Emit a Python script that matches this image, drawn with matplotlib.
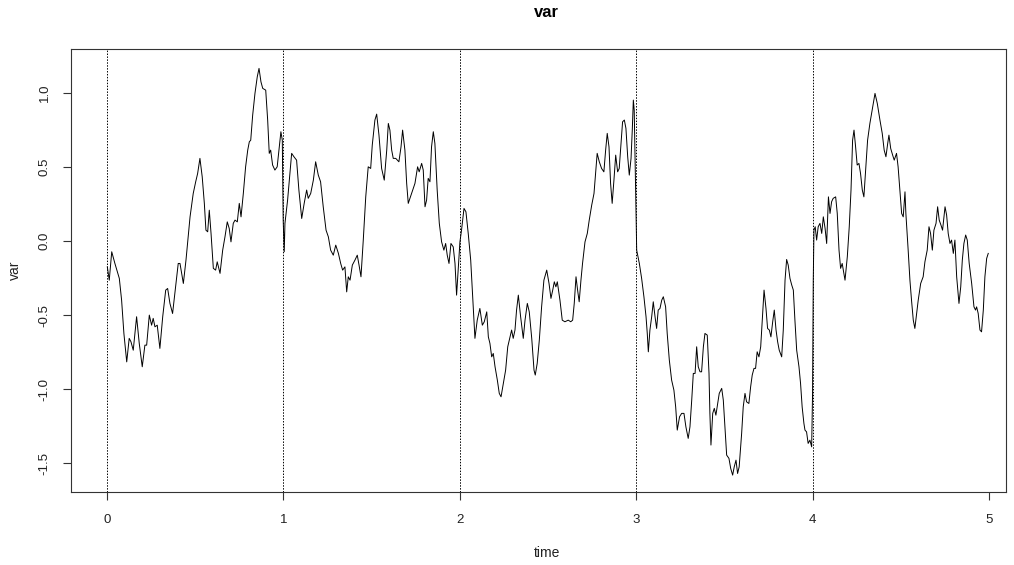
import matplotlib
matplotlib.use("Agg")
import matplotlib.pyplot as plt

plt.rcParams['font.family'] = ['Liberation Sans', 'DejaVu Sans']

# sampled path, read per unit interval
time = [
    0.002, 0.013, 0.027, 0.045, 0.070, 0.083, 0.096, 0.112, 0.126, 0.136, 0.149, 0.168, 0.183, 0.200,
    0.215, 0.225, 0.240, 0.253, 0.262, 0.272, 0.285, 0.300, 0.316, 0.333, 0.344, 0.357, 0.372, 0.385,
    0.404, 0.414, 0.433, 0.448, 0.471, 0.489, 0.503, 0.514, 0.527, 0.540, 0.552, 0.561, 0.571, 0.580,
    0.590, 0.603, 0.616, 0.625, 0.641, 0.656, 0.669, 0.682, 0.693, 0.703, 0.716, 0.726, 0.739, 0.750,
    0.760, 0.773, 0.786, 0.798, 0.807, 0.815, 0.826, 0.839, 0.852, 0.862, 0.873, 0.883, 0.900, 0.911,
    0.920, 0.928, 0.939, 0.952, 0.965, 0.977, 0.986, 0.994, 0.999, 1.005,
    1.009, 1.024, 1.037, 1.047, 1.060, 1.075, 1.088, 1.104, 1.118, 1.132, 1.141, 1.155, 1.170, 1.183,
    1.198, 1.211, 1.226, 1.242, 1.255, 1.268, 1.283, 1.297, 1.312, 1.325, 1.336, 1.349, 1.359, 1.368,
    1.378, 1.391, 1.406, 1.419, 1.429, 1.440, 1.453, 1.467, 1.481, 1.495, 1.504, 1.519, 1.529, 1.542,
    1.557, 1.572, 1.586, 1.595, 1.604, 1.614, 1.623, 1.637, 1.655, 1.667, 1.676, 1.689, 1.699, 1.708,
    1.727, 1.746, 1.761, 1.770, 1.784, 1.793, 1.803, 1.812, 1.821, 1.831, 1.840, 1.850, 1.859, 1.872,
    1.884, 1.897, 1.910, 1.920, 1.929, 1.939, 1.950, 1.963, 1.973, 1.982, 1.991, 2.001,
    2.010, 2.024, 2.035, 2.048, 2.062, 2.073, 2.086, 2.099, 2.114, 2.128, 2.139, 2.153, 2.162, 2.171,
    2.181, 2.190, 2.200, 2.213, 2.224, 2.234, 2.247, 2.260, 2.272, 2.285, 2.294, 2.303, 2.313, 2.322,
    2.332, 2.345, 2.360, 2.370, 2.383, 2.394, 2.408, 2.421, 2.428, 2.439, 2.451, 2.464, 2.477, 2.493,
    2.506, 2.517, 2.527, 2.536, 2.545, 2.553, 2.568, 2.581, 2.596, 2.615, 2.629, 2.640, 2.649, 2.659,
    2.668, 2.677, 2.687, 2.696, 2.710, 2.723, 2.734, 2.748, 2.761, 2.770, 2.779, 2.791, 2.804, 2.817,
    2.827, 2.836, 2.846, 2.855, 2.864, 2.874, 2.884, 2.895, 2.904, 2.914, 2.923, 2.933, 2.942, 2.952,
    2.961, 2.971, 2.978, 2.984, 2.989, 2.997, 3.003,
    3.018, 3.031, 3.044, 3.056, 3.063, 3.069, 3.078, 3.088, 3.097, 3.107, 3.116, 3.125, 3.135, 3.145,
    3.154, 3.167, 3.176, 3.188, 3.201, 3.214, 3.224, 3.233, 3.246, 3.258, 3.271, 3.282, 3.295, 3.305,
    3.315, 3.324, 3.334, 3.343, 3.352, 3.362, 3.371, 3.381, 3.390, 3.403, 3.413, 3.418, 3.424, 3.434,
    3.443, 3.452, 3.462, 3.471, 3.485, 3.494, 3.503, 3.513, 3.526, 3.536, 3.547, 3.556, 3.566, 3.575,
    3.584, 3.598, 3.607, 3.617, 3.626, 3.639, 3.649, 3.658, 3.668, 3.677, 3.686, 3.696, 3.706, 3.715,
    3.725, 3.736, 3.745, 3.755, 3.764, 3.774, 3.783, 3.793, 3.802, 3.811, 3.825, 3.834, 3.844, 3.853,
    3.862, 3.872, 3.882, 3.891, 3.900, 3.910, 3.923, 3.932, 3.941, 3.951, 3.957, 3.966, 3.975, 3.985,
    3.995, 4.000, 4.004, 4.008, 4.015, 4.023,
    4.032, 4.042, 4.052, 4.061, 4.071, 4.080, 4.090, 4.099, 4.108, 4.117, 4.131, 4.140, 4.150, 4.159,
    4.168, 4.184, 4.197, 4.208, 4.218, 4.227, 4.235, 4.244, 4.253, 4.263, 4.272, 4.282, 4.291, 4.301,
    4.312, 4.325, 4.338, 4.354, 4.367, 4.382, 4.395, 4.406, 4.416, 4.426, 4.433, 4.443, 4.454, 4.463,
    4.476, 4.485, 4.495, 4.505, 4.514, 4.524, 4.529, 4.542, 4.552, 4.561, 4.571, 4.580, 4.590, 4.599,
    4.613, 4.627, 4.637, 4.650, 4.660, 4.669, 4.679, 4.688, 4.700, 4.709, 4.718, 4.728, 4.737, 4.751,
    4.760, 4.769, 4.779, 4.788, 4.798, 4.807, 4.817, 4.830, 4.840, 4.849, 4.858, 4.868, 4.877, 4.888,
    4.902, 4.915, 4.924, 4.930, 4.939, 4.949, 4.958, 4.968, 4.977, 4.987, 4.996,
]

var = [
    -0.174, -0.264, -0.072, -0.151, -0.252, -0.399, -0.624, -0.816, -0.657, -0.680, -0.737, -0.511, -0.691, -0.849,
    -0.703, -0.703, -0.500, -0.568, -0.522, -0.579, -0.568, -0.725, -0.511, -0.331, -0.320, -0.421, -0.489, -0.353,
    -0.151, -0.151, -0.286, -0.128, 0.164, 0.322, 0.401, 0.457, 0.559, 0.434, 0.255, 0.074, 0.063, 0.209,
    0.052, -0.184, -0.196, -0.140, -0.218, -0.061, 0.029, 0.130, 0.086, -0.005, 0.120, 0.142, 0.130, 0.255,
    0.164, 0.322, 0.502, 0.615, 0.671, 0.682, 0.851, 0.998, 1.110, 1.167, 1.076, 1.032, 1.020, 0.818,
    0.593, 0.615, 0.514, 0.480, 0.502, 0.637, 0.739, 0.682, 0.142, -0.072,
    0.120, 0.277, 0.457, 0.593, 0.570, 0.547, 0.345, 0.153, 0.255, 0.345, 0.289, 0.322, 0.412, 0.536,
    0.446, 0.401, 0.232, 0.074, 0.029, -0.061, -0.095, -0.027, -0.083, -0.151, -0.196, -0.174, -0.343, -0.241,
    -0.264, -0.162, -0.128, -0.095, -0.162, -0.241, 0.007, 0.299, 0.502, 0.491, 0.649, 0.818, 0.858, 0.716,
    0.491, 0.412, 0.615, 0.795, 0.750, 0.615, 0.559, 0.559, 0.536, 0.637, 0.750, 0.615, 0.390, 0.255,
    0.322, 0.390, 0.502, 0.468, 0.525, 0.480, 0.232, 0.277, 0.424, 0.401, 0.637, 0.739, 0.660, 0.345,
    0.120, -0.005, -0.061, -0.016, -0.095, -0.151, -0.016, -0.039, -0.151, -0.365, -0.196, -0.005,
    0.074, 0.221, 0.198, 0.052, -0.128, -0.376, -0.657, -0.534, -0.455, -0.568, -0.545, -0.478, -0.647, -0.691,
    -0.782, -0.759, -0.849, -0.939, -1.029, -1.052, -0.962, -0.872, -0.714, -0.647, -0.601, -0.657, -0.601, -0.466,
    -0.365, -0.511, -0.657, -0.534, -0.421, -0.478, -0.657, -0.872, -0.905, -0.826, -0.669, -0.444, -0.264, -0.196,
    -0.286, -0.387, -0.331, -0.275, -0.309, -0.275, -0.399, -0.534, -0.545, -0.534, -0.545, -0.534, -0.421, -0.241,
    -0.331, -0.410, -0.264, -0.151, -0.005, 0.052, 0.142, 0.243, 0.322, 0.457, 0.593, 0.536, 0.491, 0.468,
    0.615, 0.728, 0.637, 0.390, 0.255, 0.412, 0.581, 0.468, 0.491, 0.660, 0.806, 0.818, 0.762, 0.570,
    0.446, 0.559, 0.750, 0.953, 0.885, 0.367, -0.061,
    -0.151, -0.252, -0.376, -0.511, -0.624, -0.748, -0.601, -0.511, -0.410, -0.511, -0.590, -0.466, -0.455, -0.399,
    -0.376, -0.444, -0.624, -0.804, -0.939, -1.007, -1.120, -1.277, -1.187, -1.164, -1.164, -1.255, -1.333, -1.255,
    -1.074, -0.894, -0.894, -0.714, -0.849, -0.883, -0.883, -0.714, -0.624, -0.635, -0.894, -1.164, -1.378, -1.164,
    -1.130, -1.176, -1.097, -1.029, -0.995, -1.074, -1.255, -1.446, -1.468, -1.536, -1.581, -1.525, -1.480, -1.570,
    -1.525, -1.299, -1.120, -1.029, -1.086, -1.097, -0.984, -0.905, -0.860, -0.860, -0.748, -0.782, -0.714, -0.534,
    -0.331, -0.455, -0.590, -0.601, -0.647, -0.545, -0.466, -0.601, -0.680, -0.737, -0.782, -0.601, -0.264, -0.124,
    -0.162, -0.252, -0.297, -0.331, -0.534, -0.737, -0.849, -0.962, -1.120, -1.232, -1.277, -1.289, -1.367, -1.345,
    -1.390, -1.029, -0.264, 0.074, 0.097, 0.007,
    0.097, 0.120, 0.052, 0.164, 0.086, -0.016, 0.299, 0.187, 0.266, 0.289, 0.299, 0.187, -0.061, -0.184,
    -0.151, -0.264, -0.106, 0.097, 0.345, 0.682, 0.750, 0.637, 0.514, 0.525, 0.457, 0.345, 0.299, 0.480,
    0.682, 0.795, 0.885, 0.998, 0.930, 0.818, 0.728, 0.615, 0.570, 0.660, 0.716, 0.626, 0.581, 0.547,
    0.593, 0.502, 0.345, 0.187, 0.164, 0.333, 0.187, -0.061, -0.264, -0.399, -0.534, -0.590, -0.489, -0.399,
    -0.286, -0.241, -0.140, -0.061, 0.097, 0.052, -0.061, 0.074, 0.120, 0.232, 0.142, 0.108, 0.074, 0.232,
    0.176, 0.052, -0.016, 0.007, -0.083, 0.007, -0.241, -0.421, -0.309, -0.128, -0.016, 0.041, 0.007, -0.151,
    -0.286, -0.444, -0.466, -0.444, -0.489, -0.601, -0.613, -0.466, -0.241, -0.117, -0.083,
]

breaks = [0, 1, 2, 3, 4]
xticks = [0, 1, 2, 3, 4, 5]
yticks = [-1.5, -1.0, -0.5, 0.0, 0.5, 1.0]

fig = plt.figure(figsize=(10.14, 5.65), dpi=100)
ax = fig.add_axes([0.070, 0.129, 0.922, 0.784])

ax.plot(time, var, color='black', lw=0.7)
for b in breaks:
    ax.axvline(b, color='black', lw=0.7, linestyle=(0, (1.5, 1.5)))

ax.set_xlim(-0.204, 5.096)
ax.set_ylim(-1.696, 1.297)
ax.set_xticks(xticks)
ax.set_xticklabels([str(v) for v in xticks])
ax.set_yticks(yticks)
ax.set_yticklabels([f"{v:.1f}" for v in yticks], rotation=90, va='center')

for s in ax.spines.values():
    s.set_linewidth(0.8)
    s.set_color('#333333')
ax.tick_params(direction='out', length=5.5, width=0.8, color='#333333',
               labelsize=9.5, labelcolor='#222222')
ax.tick_params(axis='x', pad=10)
ax.tick_params(axis='y', pad=9)

ax.set_xlabel('time', fontsize=10, color='#222222')
ax.set_ylabel('var', fontsize=10, color='#222222')
ax.xaxis.set_label_coords(0.509, -0.138)
ax.yaxis.set_label_coords(-0.060, 0.5)
ax.xaxis.label.set_va('center')
ax.yaxis.label.set_va('center')
ax.text(0.509, 1.0835, 'var', transform=ax.transAxes, ha='center', va='center',
        fontsize=12, fontweight='bold')

fig.savefig('out.png', dpi=100)
